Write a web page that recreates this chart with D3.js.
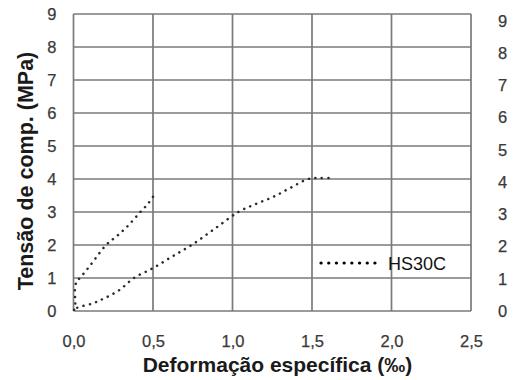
<!DOCTYPE html>
<html>
<head>
<meta charset="utf-8">
<script src="https://cdn.jsdelivr.net/npm/d3@7"></script>
<style>
  html, body { margin: 0; padding: 0; background: #fff; }
  svg { display: block; }
  text { font-family: "Liberation Sans", Arial, sans-serif; }
</style>
</head>
<body>
<svg id="chart" width="517" height="380"></svg>
<script>
// ---- data ----
const seriesName = "HS30C";
// strain (‰) and stress (MPa), one continuous series
const strain = [0.50, 0.46, 0.42, 0.35, 0.28, 0.205, 0.10, 0.04, 0.02, 0.01, 0.01, 0.01, 0.00,
                0.02, 0.12, 0.20, 0.29, 0.38, 0.50, 0.62, 0.743, 0.89, 1.037, 1.15, 1.257, 1.36, 1.477, 1.55, 1.624];
const stress = [3.46, 3.20, 3.00, 2.62, 2.30, 2.00, 1.35, 1.00, 0.90, 0.70, 0.40, 0.10, 0.00,
                0.09, 0.23, 0.40, 0.64, 1.00, 1.30, 1.65, 2.00, 2.50, 3.00, 3.25, 3.46, 3.72, 4.00, 4.03, 4.03];
const xTicks = [0, 0.5, 1.0, 1.5, 2.0, 2.5];
const yTicks = [0, 1, 2, 3, 4, 5, 6, 7, 8, 9];
const xTitle = "Deformação específica (‰)";
const yTitle = "Tensão de comp. (MPa)";

// ---- layout ----
const svg = d3.select("#chart");
const L = 73.5, R = 471, T = 14, B = 311;
const x = d3.scaleLinear().domain([0, 2.5]).range([L, R]);
const y = d3.scaleLinear().domain([0, 9]).range([B, T]);
const y2 = d3.scaleLinear().domain([0, 9]).range([B, 21]);
const fmt = d => d3.format(".1f")(d).replace(".", ",");
const gridColor = "#7a7a7a";

// grid
const g = svg.append("g");
g.selectAll(".vg").data(xTicks).join("line")
  .attr("x1", d => x(d)).attr("x2", d => x(d)).attr("y1", T).attr("y2", B)
  .attr("stroke", gridColor).attr("stroke-width", 1.7);
g.selectAll(".hg").data(yTicks).join("line")
  .attr("x1", L).attr("x2", R).attr("y1", d => y(d)).attr("y2", d => y(d))
  .attr("stroke", gridColor).attr("stroke-width", 1.7);

function styleTicks(sel) {
  sel.select(".domain").remove();
  sel.selectAll("text").attr("font-size", 16.5).attr("fill", "#3a3a3a")
    .attr("stroke", "#3a3a3a").attr("stroke-width", 0.25)
    .attr("font-family", "Liberation Sans, Arial, sans-serif");
}
// axes (tick labels only)
const xAxis = svg.append("g").attr("transform", `translate(0,${B})`)
  .call(d3.axisBottom(x).tickValues(xTicks).tickFormat(fmt).tickSize(0).tickPadding(24));
styleTicks(xAxis);

const yAxis = svg.append("g").attr("transform", `translate(${L},0)`)
  .call(d3.axisLeft(y).tickValues(yTicks).tickFormat(d3.format("d")).tickSize(0).tickPadding(17));
styleTicks(yAxis);

const yAxis2 = svg.append("g").attr("transform", `translate(${R},0)`)
  .call(d3.axisRight(y2).tickValues(yTicks).tickFormat(d3.format("d")).tickSize(0).tickPadding(27));
styleTicks(yAxis2);

// titles
svg.append("text").attr("x", 277.5).attr("y", 372).attr("text-anchor", "middle")
  .attr("font-size", 21).attr("font-weight", "bold").attr("fill", "#1a1a1a").text(xTitle);
svg.append("text").attr("transform", "translate(33,171) rotate(-90)").attr("text-anchor", "middle")
  .attr("font-size", 21.5).attr("font-weight", "bold").attr("fill", "#1a1a1a").text(yTitle);

// series
const pts = strain.map((s, i) => [s, stress[i]]);
const line = d3.line().x(d => x(d[0])).y(d => y(d[1])).curve(d3.curveCatmullRom.alpha(0.5));
svg.append("path").datum(pts).attr("d", line)
  .attr("fill", "none").attr("stroke", "#2a2a2a").attr("stroke-width", 2.5)
  .attr("stroke-linecap", "round").attr("stroke-dasharray", "0.1 6.4");

// legend
svg.append("line").attr("x1", 321).attr("x2", 382).attr("y1", 263).attr("y2", 263)
  .attr("stroke", "#000").attr("stroke-width", 3.2).attr("stroke-linecap", "round")
  .attr("stroke-dasharray", "0.1 7.6");
svg.append("text").attr("x", 388).attr("y", 269.5).attr("font-size", 18).attr("fill", "#111").text(seriesName);
</script>
</body>
</html>
